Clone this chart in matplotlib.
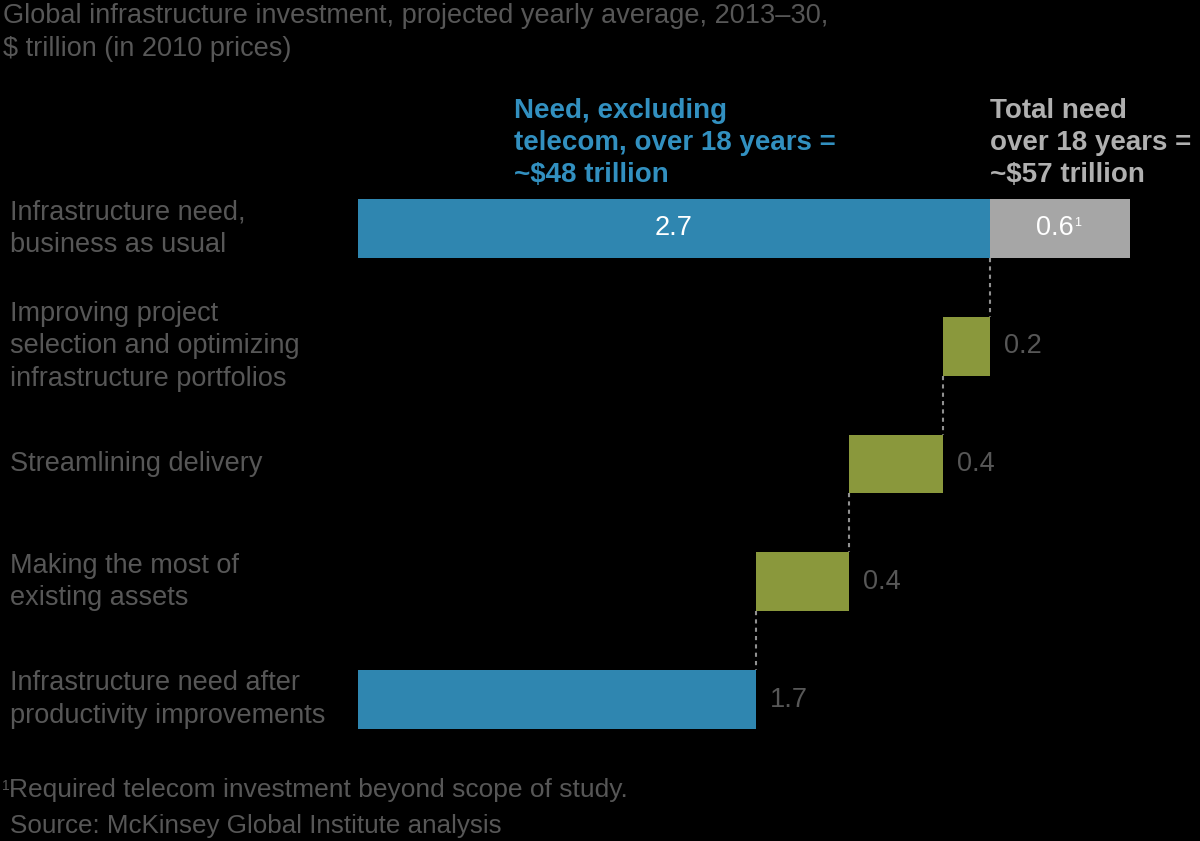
import matplotlib
matplotlib.use("Agg")
import matplotlib.pyplot as plt
from matplotlib.transforms import blended_transform_factory

plt.rcParams['font.family'] = ['Liberation Sans', 'DejaVu Sans']

categories = ["Infrastructure need,\nbusiness as usual",
              "Improving project\nselection and optimizing\ninfrastructure portfolios",
              "Streamlining delivery",
              "Making the most of\nexisting assets",
              "Infrastructure need after\nproductivity improvements"]
need_ex_telecom = 2.7
telecom = 0.6
savings = [0.2, 0.4, 0.4]
after = 1.7

BLUE = "#2f86b0"
GREEN = "#8a983c"
GREY = "#a6a6a6"
TXT = "#575757"
BG = "black"
FS = 19.5

fig = plt.figure(figsize=(12, 8.41), dpi=100, facecolor=BG)
W, H = 1200, 841
top_px, bot_px = 169.6, 758.4
ax = fig.add_axes([358 / W, 1 - bot_px / H, (W - 358) / W, (bot_px - top_px) / H])
ax.set_facecolor(BG)
ax.set_xlim(0, 3.6)
ax.set_ylim(4.5, -0.5)
ax.axis('off')
h = 0.5

# row 0
ax.barh(0, need_ex_telecom, height=h, color=BLUE)
ax.barh(0, telecom, left=need_ex_telecom, height=h, color=GREY)
ax.text(need_ex_telecom / 2, 0, f"{need_ex_telecom}", color="white", ha='center', va='center', fontsize=FS)
t06 = ax.text(need_ex_telecom + telecom / 2 - 0.02, 0, f"{telecom}", color="white", ha='center', va='center', fontsize=FS)
ax.annotate("1", xy=(1, 1), xycoords=t06, xytext=(0.3, -1), textcoords='offset points',
            ha='left', va='top', color="white", fontsize=9)

# savings
level = need_ex_telecom
prev_bottom = 0 + h / 2
for i, s in enumerate(savings, start=1):
    left = level - s
    ax.barh(i, s, left=left, height=h, color=GREEN)
    ax.plot([level, level], [prev_bottom, i - h / 2], color="#909090", ls=(0, (2, 2)), lw=1.5)
    ax.text(level + 0.06, i, f"{s}", color=TXT, ha='left', va='center', fontsize=FS)
    level = left
    prev_bottom = i + h / 2

ax.barh(4, after, height=h, color=BLUE)
ax.plot([after, after], [prev_bottom, 4 - h / 2], color="#909090", ls=(0, (2, 2)), lw=1.5)
ax.text(after + 0.06, 4, f"{after}", color=TXT, ha='left', va='center', fontsize=FS)

tr = blended_transform_factory(fig.transFigure, ax.transData)
for i, c in enumerate(categories):
    ax.text(10 / W, i, c, transform=tr, ha='left', va='center', color=TXT, fontsize=FS, linespacing=1.32)

def ft(x, y, s, **kw):
    fig.text(x / W, 1 - y / H, s, **kw)

ft(3, 32.5, "Global infrastructure investment, projected yearly average, 2013\u201330,\n$ trillion (in 2010 prices)",
   ha='left', va='center', color=TXT, fontsize=FS, linespacing=1.32)
ft(514, 143, "Need, excluding\ntelecom, over 18 years =\n~$48 trillion", ha='left', va='center',
   color="#3290c0", fontsize=20, fontweight='bold', linespacing=1.3)
ft(990, 143, "Total need\nover 18 years =\n~$57 trillion", ha='left', va='center',
   color="#b0b0b0", fontsize=20, fontweight='bold', linespacing=1.3)
ft(2, 779, "1", ha='left', va='top', color=TXT, fontsize=10)
ft(9, 790, "Required telecom investment beyond scope of study.", ha='left', va='center', color=TXT, fontsize=19)
ft(10, 826, "Source: McKinsey Global Institute analysis", ha='left', va='center', color=TXT, fontsize=18.7)

fig.savefig("out.png", dpi=100, facecolor=BG)
